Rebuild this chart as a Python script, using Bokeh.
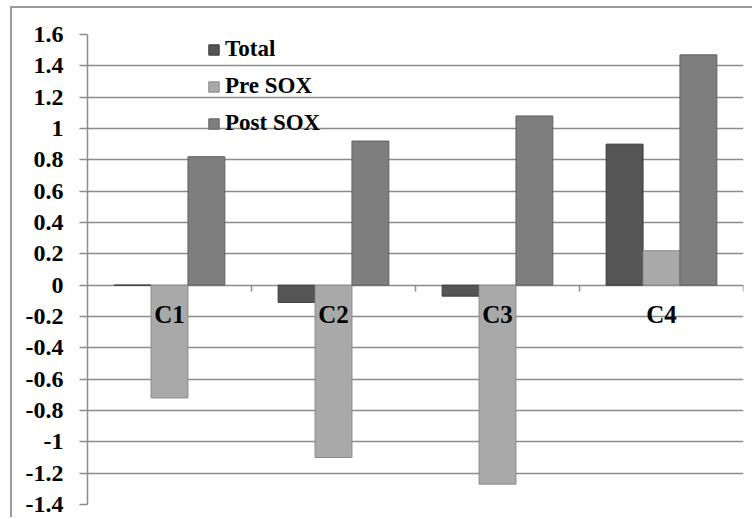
from bokeh.plotting import figure
from bokeh.models import FixedTicker, Legend, LegendItem, ColumnDataSource
from bokeh.core.properties import value
from bokeh.embed import file_html
from bokeh.resources import INLINE

categories = ["C1", "C2", "C3", "C4"]
total = [0.0, -0.11, -0.07, 0.90]
pre_sox = [-0.72, -1.10, -1.27, 0.22]
post_sox = [0.82, 0.92, 1.08, 1.47]
series_names = ["Total", "Pre SOX", "Post SOX"]
y_ticks = [1.6, 1.4, 1.2, 1.0, 0.8, 0.6, 0.4, 0.2, 0.0, -0.2, -0.4, -0.6, -0.8, -1.0, -1.2, -1.4]
y_tick_labels = ["1.6", "1.4", "1.2", "1", "0.8", "0.6", "0.4", "0.2", "0", "-0.2", "-0.4", "-0.6", "-0.8", "-1", "-1.2", "-1.4"]

colors = ["#555555", "#a9a9a9", "#7e7e7e"]
outlines = ["#3a3a3a", "#8a8a8a", "#606060"]
FONT = "Liberation Serif"

centers = [i + 0.5 for i in range(len(categories))]
bar_w = 0.225
offsets = [-bar_w, 0.0, bar_w]

p = figure(width=742, height=511, output_backend="svg", toolbar_location=None,
           x_range=(0, len(categories)), y_range=(-1.4, 1.6),
           min_border_left=75, min_border_top=26, min_border_right=11, min_border_bottom=15)
p.styles = {"margin-left": "10px", "margin-top": "6px",
            "border-left": "2px solid #9a9a9a", "border-top": "2px solid #9a9a9a"}
p.outline_line_color = None
p.xaxis.visible = False
p.xgrid.visible = False

p.ygrid.ticker = FixedTicker(ticks=y_ticks)
p.ygrid.grid_line_color = "#8c8c8c"
p.ygrid.grid_line_width = 1.5

ax = p.yaxis[0]
ax.ticker = FixedTicker(ticks=y_ticks)
ax.major_label_overrides = {t: l for t, l in zip(y_ticks, y_tick_labels)}
ax.major_label_text_font = FONT
ax.major_label_text_font_style = "bold"
ax.major_label_text_font_size = "24px"
ax.major_label_text_color = "#000000"
ax.axis_line_color = "#8c8c8c"
ax.axis_line_width = 1.5
ax.major_tick_line_color = "#8c8c8c"
ax.major_tick_line_width = 1.5
ax.major_tick_out = 8
ax.major_tick_in = 0
ax.minor_tick_line_color = None
ax.major_label_standoff = 16

renderers = []
for vals, off, c, oc in zip([total, pre_sox, post_sox], offsets, colors, outlines):
    src = ColumnDataSource(dict(x=[cx + off for cx in centers], top=vals))
    r = p.vbar(x="x", top="top", bottom=0, width=bar_w, source=src,
               fill_color=c, line_color=oc, line_width=1)
    renderers.append(r)

# category tick marks along zero line
p.segment(x0=list(range(1, len(categories) + 1)), y0=[0] * len(categories),
          x1=list(range(1, len(categories) + 1)), y1=[-0.04] * len(categories),
          line_color="#8c8c8c", line_width=1.5)

p.text(x=centers, y=[-0.19] * len(categories), text=categories,
       text_font=value(FONT), text_font_style="bold", text_font_size="25px",
       text_align="center", text_baseline="middle", text_color="#000000")

legend = Legend(items=[LegendItem(label=n, renderers=[r]) for n, r in zip(series_names, renderers)],
                location=(120, 368))
legend.background_fill_alpha = 0
legend.border_line_alpha = 0
legend.padding = 0
legend.margin = 0
legend.spacing = 11
legend.glyph_width = 13
legend.glyph_height = 13
legend.label_height = 24
legend.label_standoff = 5
legend.label_text_font = FONT
legend.label_text_font_style = "bold"
legend.label_text_font_size = "23px"
legend.label_text_color = "#000000"
p.add_layout(legend)

open("out.html", "w").write(file_html(p, INLINE))
